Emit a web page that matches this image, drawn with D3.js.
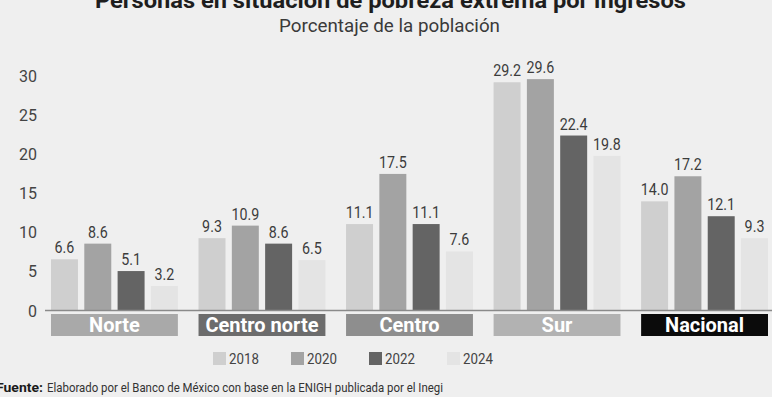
<!DOCTYPE html>
<html>
<head>
<meta charset="utf-8">
<script src="https://cdn.jsdelivr.net/npm/d3@7"></script>
<style>
  html, body { margin: 0; padding: 0; background: #efefef; }
  svg { display: block; font-family: Roboto, "Noto Sans", sans-serif; }
</style>
</head>
<body>
<div id="chart"></div>
<script>
/* ============================================================
   Pobreza extrema por ingresos - grouped bars by region
   ============================================================ */

const regions = ['Norte', 'Centro norte', 'Centro', 'Sur', 'Nacional'];
const years = ['2018', '2020', '2022', '2024'];

// Percent of population, one array per year (same order as regions)
const values2018 = [6.6, 9.3, 11.1, 29.2, 14.0];
const values2020 = [8.6, 10.9, 17.5, 29.6, 17.2];
const values2022 = [5.1, 8.6, 11.1, 22.4, 12.1];
const values2024 = [3.2, 6.5, 7.6, 19.8, 9.3];

const yTicks = [0, 5, 10, 15, 20, 25, 30];

const yearColors = ['#cfcfcf', '#a3a3a3', '#646464', '#e4e4e4'];
const regionColors = ['#a9a9a9', '#6c6c6c', '#8e8e8e', '#b2b2b2', '#0b0b0b'];

const width = 772;
const height = 397;

const svg = d3.select('#chart')
    .append('svg')
    .attr('width', width)
    .attr('height', height);

svg.append('rect')
    .attr('width', width)
    .attr('height', height)
    .attr('fill', '#efefef');

// Scales
const x0 = d3.scaleBand()
    .domain(regions)
    .range([51, 768])
    .paddingInner(0.14);

const x1 = d3.scaleBand()
    .domain(years)
    .range([0, x0.bandwidth()])
    .paddingInner(0.19);

const y = d3.scaleLinear()
    .domain([0, 30])
    .range([311, 76]);

const color = d3.scaleOrdinal().domain(years).range(yearColors);

// Rows for drawing
const series = [values2018, values2020, values2022, values2024];
const rows = regions.map((r, i) => ({
    region: r,
    bars: years.map((yr, j) => ({ year: yr, value: series[j][i] }))
}));

// squeeze text horizontally to mimic the condensed face
function fitWidth(sel, w) {
    sel.attr('textLength', w).attr('lengthAdjust', 'spacingAndGlyphs');
}

// Title + subtitle
svg.append('text')
    .attr('x', 95)
    .attr('y', 8)
    .attr('font-size', 22)
    .attr('font-weight', 700)
    .attr('fill', '#1e1e1e')
    .text('Personas en situación de pobreza extrema por ingresos')
    .call(fitWidth, 591);

svg.append('text')
    .attr('x', 279)
    .attr('y', 32)
    .attr('font-size', 18)
    .attr('fill', '#3a3a3a')
    .text('Porcentaje de la población')
    .call(fitWidth, 221);

// Y axis (labels only, no line)
const yAxis = svg.append('g')
    .attr('transform', 'translate(37,0)')
    .call(d3.axisLeft(y).tickValues(yTicks).tickSize(0).tickPadding(0));
yAxis.select('.domain').remove();
yAxis.selectAll('text')
    .attr('font-family', 'Roboto, sans-serif')
    .attr('font-size', 16)
    .attr('fill', '#444');

// Bars
const groups = svg.append('g').attr('class', 'groups')
    .selectAll('g')
    .data(rows)
    .enter()
    .append('g')
    .attr('transform', d => `translate(${x0(d.region)},0)`);

groups.selectAll('rect')
    .data(d => d.bars)
    .enter()
    .append('rect')
    .attr('x', d => x1(d.year))
    .attr('y', d => y(d.value))
    .attr('width', x1.bandwidth())
    .attr('height', d => y(0) - y(d.value))
    .attr('fill', d => color(d.year));

groups.selectAll('text.value')
    .data(d => d.bars)
    .enter()
    .append('text')
    .attr('class', 'value')
    .attr('text-anchor', 'middle')
    .attr('transform', d => `translate(${x1(d.year) + x1.bandwidth() / 2},${y(d.value) - 6}) scale(0.84,1)`)
    .attr('font-size', 17)
    .attr('fill', '#3c3c3c')
    .text(d => d.value.toFixed(1));

// Baseline
svg.append('line')
    .attr('x1', 45)
    .attr('x2', width)
    .attr('y1', y(0) - 0.5)
    .attr('y2', y(0) - 0.5)
    .attr('stroke', '#8a8a8a')
    .attr('stroke-width', 1.5);

// Region label boxes
const labels = svg.append('g').attr('class', 'region-labels')
    .selectAll('g')
    .data(regions)
    .enter()
    .append('g')
    .attr('transform', d => `translate(${x0(d)},314)`);

labels.append('rect')
    .attr('width', x0.bandwidth())
    .attr('height', 22)
    .attr('fill', (d, i) => regionColors[i]);

labels.append('text')
    .attr('x', x0.bandwidth() / 2)
    .attr('y', 18)
    .attr('text-anchor', 'middle')
    .attr('font-size', 20)
    .attr('font-weight', 700)
    .attr('fill', '#fff')
    .text(d => d);

// Legend
const legend = svg.append('g').attr('class', 'legend')
    .selectAll('g')
    .data(years)
    .enter()
    .append('g')
    .attr('transform', (d, i) => `translate(${213 + i * 78},352)`);

legend.append('rect')
    .attr('width', 13)
    .attr('height', 13)
    .attr('fill', d => color(d));

legend.append('text')
    .attr('transform', 'translate(16,12) scale(0.86,1)')
    .attr('font-size', 15.5)
    .attr('fill', '#444')
    .text(d => d);

// Source (bold lead-in, then the note)
svg.append('text')
    .attr('x', -4)
    .attr('y', 392)
    .attr('font-size', 13)
    .attr('font-weight', 700)
    .attr('fill', '#1a1a1a')
    .text('Fuente:')
    .call(fitWidth, 47);

svg.append('text')
    .attr('x', 47)
    .attr('y', 392)
    .attr('font-size', 13)
    .attr('fill', '#333')
    .text('Elaborado por el Banco de México con base en la ENIGH publicada por el Inegi')
    .call(fitWidth, 396);
</script>
</body>
</html>
